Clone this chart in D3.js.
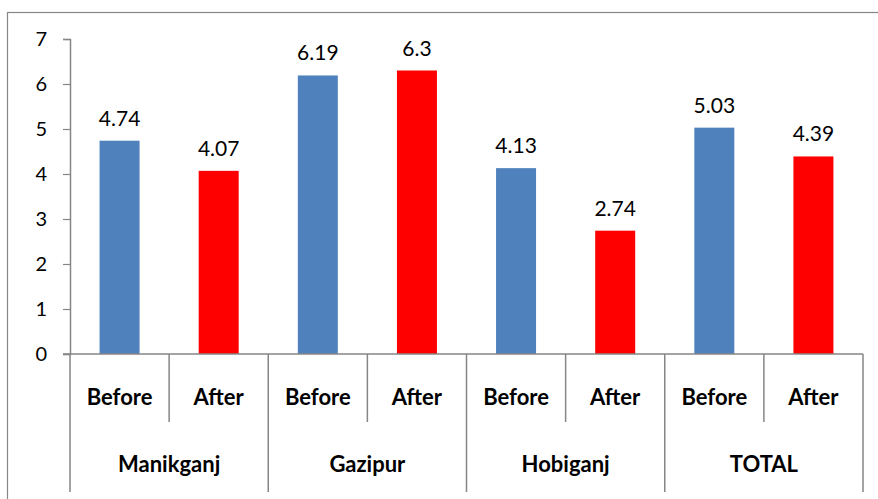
<!DOCTYPE html>
<html>
<head>
<meta charset="utf-8">
<script src="https://cdn.jsdelivr.net/npm/d3@7"></script>
<style>
  html, body { margin: 0; padding: 0; background: #fff; }
  svg { display: block; font-family: Lato, "Open Sans", sans-serif; }
</style>
</head>
<body>
<svg id="chart" width="878" height="499"></svg>
<script>
// District groups and the before/after periods within each
const groups = ["Manikganj", "Gazipur", "Hobiganj", "TOTAL"];
const periods = ["Before", "After"];
const beforeValues = [4.74, 6.19, 4.13, 5.03];
const afterValues = [4.07, 6.3, 2.74, 4.39];
const yTicks = [0, 1, 2, 3, 4, 5, 6, 7];

const colors = { Before: "#4F81BD", After: "#FF0000" };
const axisColor = "#868686";

// Flatten into one row per bar
const rows = [];
groups.forEach((g, i) => {
  rows.push({ group: g, period: periods[0], value: beforeValues[i] });
  rows.push({ group: g, period: periods[1], value: afterValues[i] });
});
rows.forEach(r => r.key = r.group + "|" + r.period);

const svg = d3.select("#chart");
const plotLeft = 70, plotRight = 863, plotTop = 39, plotBottom = 354;

// Outer chart frame (runs past the bottom and right edges)
svg.append("rect")
  .attr("x", 7.5).attr("y", 12.5)
  .attr("width", 900).attr("height", 490)
  .attr("fill", "none").attr("stroke", axisColor).attr("stroke-width", 1.2);

const xSlot = d3.scaleBand().domain(rows.map(r => r.key)).range([plotLeft, plotRight]);
const y = d3.scaleLinear().domain([0, 7]).range([plotBottom, plotTop]);

// Y axis with outward ticks
const yAxis = svg.append("g")
  .attr("transform", `translate(${plotLeft},0)`)
  .call(d3.axisLeft(y).tickValues(yTicks).tickFormat(d3.format("d")).tickSize(7).tickPadding(16));
yAxis.select(".domain").attr("stroke", axisColor).attr("stroke-width", 1.5);
yAxis.selectAll(".tick line").attr("stroke", axisColor).attr("stroke-width", 1.2);
yAxis.selectAll(".tick text")
  .attr("fill", "#000").attr("font-size", 20)
  .attr("font-family", "Lato, 'Open Sans', sans-serif");

// Bars
const barW = 40;
svg.append("g").selectAll("rect").data(rows).join("rect")
  .attr("x", d => xSlot(d.key) + xSlot.bandwidth() / 2 - barW / 2)
  .attr("y", d => y(d.value))
  .attr("width", barW)
  .attr("height", d => y(0) - y(d.value))
  .attr("fill", d => colors[d.period]);

// Value labels above bars
svg.append("g").selectAll("text").data(rows).join("text")
  .attr("x", d => xSlot(d.key) + xSlot.bandwidth() / 2)
  .attr("y", d => y(d.value) - 15)
  .attr("text-anchor", "middle")
  .attr("font-size", 21)
  .attr("fill", "#000")
  .text(d => d.value);

// Horizontal category axis
svg.append("line")
  .attr("x1", plotLeft - 7).attr("x2", plotRight)
  .attr("y1", plotBottom).attr("y2", plotBottom)
  .attr("stroke", axisColor).attr("stroke-width", 1.5);

// Separator lines: short between periods, long between groups
const sep = svg.append("g");
rows.forEach((r, i) => {
  const xs = xSlot(r.key);
  const isGroupEdge = i % 2 === 0;
  sep.append("line")
    .attr("x1", xs).attr("x2", xs)
    .attr("y1", plotBottom).attr("y2", isGroupEdge ? 492 : 422)
    .attr("stroke", axisColor).attr("stroke-width", 1.5);
});
sep.append("line")
  .attr("x1", plotRight).attr("x2", plotRight)
  .attr("y1", plotBottom).attr("y2", 492)
  .attr("stroke", axisColor).attr("stroke-width", 1.5);

// Period labels
svg.append("g").selectAll("text").data(rows).join("text")
  .attr("x", d => xSlot(d.key) + xSlot.bandwidth() / 2)
  .attr("y", 405)
  .attr("text-anchor", "middle")
  .attr("font-size", 22)
  .attr("font-weight", "bold")
  .attr("fill", "#000")
  .text(d => d.period);

// Group labels
svg.append("g").selectAll("text").data(groups).join("text")
  .attr("x", d => xSlot(d + "|" + periods[0]) + xSlot.bandwidth())
  .attr("y", 472)
  .attr("text-anchor", "middle")
  .attr("font-size", 22)
  .attr("font-weight", "bold")
  .attr("fill", "#000")
  .text(d => d);
</script>
</body>
</html>
